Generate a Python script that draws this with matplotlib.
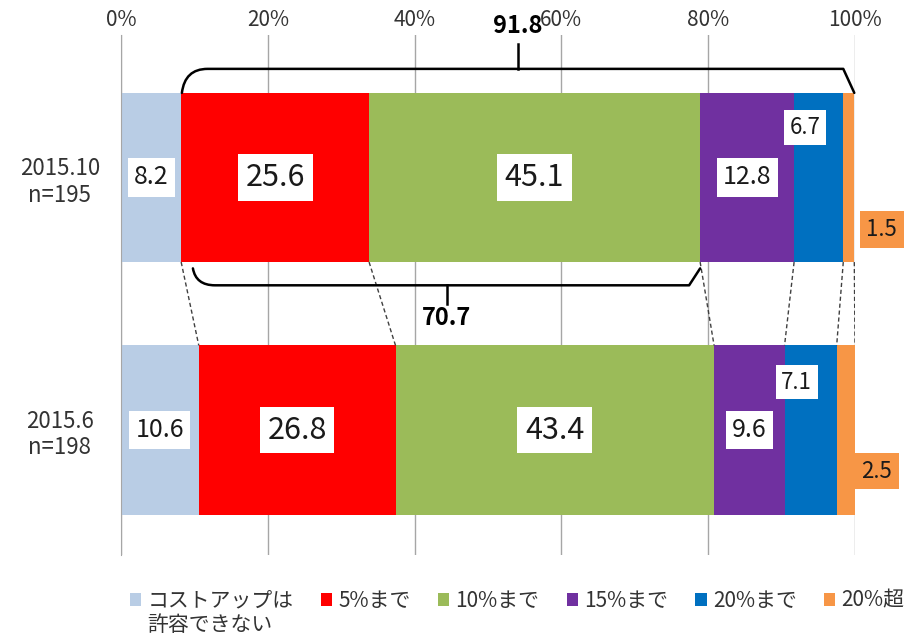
import matplotlib
matplotlib.use("Agg")
import matplotlib.pyplot as plt
from matplotlib.path import Path
from matplotlib.patches import PathPatch, Patch
import numpy as np

plt.rcParams['font.family'] = ['Noto Sans CJK JP', 'DejaVu Sans']

# ---------------------------------------------
# Data
# ---------------------------------------------
row_labels = ["2015.10\nn=195", "2015.6\nn=198"]
categories = ["コストアップは", "5%まで", "10%まで", "15%まで", "20%まで", "20%超"]
vals_2015_10 = [8.2, 25.6, 45.1, 12.8, 6.7, 1.5]
vals_2015_6 = [10.6, 26.8, 43.4, 9.6, 7.1, 2.5]
colors = ["#B9CDE5", "#FF0000", "#9BBB59", "#7030A0", "#0070C0", "#F79646"]
total_upto_20over = "91.8"   # 5%まで ~ 20%超 (2015.10)
total_5_10 = "70.7"          # 5%まで + 10%まで (2015.10)
xticks = [0, 20, 40, 60, 80, 100]

# label styling per segment
label_size = [18, 22, 22, 18, 16, 16]
small_offsets = [(-14, 50), (-14, 48)]     # 20%まで label (pixels)
orange_offsets = [(33, -52), (31, -41)]    # 20%超 label (pixels)

# ---------------------------------------------
# Figure
# ---------------------------------------------
fig = plt.figure(figsize=(9.13, 6.37), dpi=100)
ax = fig.add_axes([0.1325, 0.1287, 0.804, 0.8163])

data = np.array([vals_2015_10, vals_2015_6])
ypos = np.arange(len(row_labels))
bar_h = 0.67
left = np.zeros(len(row_labels))

for j, cat in enumerate(categories):
    ax.barh(ypos, data[:, j], left=left, height=bar_h, color=colors[j],
            label=cat, zorder=2)
    for i in range(len(row_labels)):
        v = data[i, j]
        xc = left[i] + v / 2
        txt = f"{v:.1f}"
        if j == 4:
            ax.annotate(txt, (xc, ypos[i]), xytext=small_offsets[i],
                        textcoords="offset pixels", ha="center", va="center",
                        fontsize=label_size[j], color="#1a1a1a", zorder=5,
                        bbox=dict(boxstyle="square,pad=0.25", fc="white", ec="none"))
        elif j == 5:
            ax.annotate(txt, (xc, ypos[i]), xytext=orange_offsets[i],
                        textcoords="offset pixels", ha="center", va="center",
                        fontsize=label_size[j], color="#1a1a1a", zorder=5,
                        annotation_clip=False,
                        bbox=dict(boxstyle="square,pad=0.3", fc=colors[5], ec="none"))
        else:
            ax.text(xc, ypos[i], txt, ha="center", va="center",
                    fontsize=label_size[j], color="#1a1a1a", zorder=5,
                    bbox=dict(boxstyle="square,pad=0.25", fc="white", ec="none"))
    left += data[:, j]

# series lines between the two bars
cum = np.cumsum(data, axis=1)
for k in range(len(categories)):
    ax.plot([cum[0, k], cum[1, k]], [ypos[0] + bar_h / 2, ypos[1] - bar_h / 2],
            ls=(0, (3, 2)), color="#404040", lw=1, zorder=3)


# ---------------------------------------------
# Braces
# ---------------------------------------------
def draw_brace(x0, x1, y_end, y_line, y_tip, curve_in, label, y_label):
    verts = [(x0, y_end), (x0 + 0.4, y_line), (x0 + curve_in, y_line),
             (x1 - 1.5, y_line), (x1, y_end)]
    codes = [Path.MOVETO, Path.CURVE3, Path.CURVE3, Path.LINETO, Path.LINETO]
    ax.add_patch(PathPatch(Path(verts, codes), fc="none", ec="black", lw=1.8,
                           zorder=4, clip_on=False, capstyle="round",
                           joinstyle="round"))
    xm = (x0 + x1) / 2
    ax.plot([xm, xm], [y_line, y_tip], color="black", lw=1.8, zorder=4,
            clip_on=False)
    ax.text(xm, y_label, label, ha="center", va="center", fontsize=17,
            fontweight="bold", color="black", zorder=6, clip_on=False)


top_y = ypos[0] - bar_h / 2
draw_brace(cum[0, 0] + 0.1, cum[0, 5], top_y, -0.43, -0.53, 3.5,
           total_upto_20over, -0.598)
draw_brace(cum[0, 0] + 1.6, cum[0, 2], 0.36, 0.427, 0.50, 3.0,
           total_5_10, 0.556)

# ---------------------------------------------
# Axes styling
# ---------------------------------------------
ax.set_xlim(0, 100)
ax.set_ylim(1.495, -0.564)
ax.xaxis.tick_top()
ax.set_xticks(xticks)
ax.set_xticklabels([f"{t}%" for t in xticks], fontsize=15, color="#333333")
ax.set_yticks(ypos)
ax.set_yticklabels(row_labels, fontsize=16, color="#333333", ha="center")
ax.tick_params(axis="x", length=0, pad=3)
ax.tick_params(axis="y", length=0, pad=44)
ax.xaxis.grid(True, color="#A6A6A6", lw=1)
ax.set_axisbelow(True)
for s in ["top", "right", "bottom"]:
    ax.spines[s].set_visible(False)
ax.spines["left"].set_color("#A6A6A6")

# ---------------------------------------------
# Legend
# ---------------------------------------------
handles = [Patch(facecolor=c, edgecolor="none") for c in colors]
leg = fig.legend(handles, categories, loc="upper left",
                 bbox_to_anchor=(0.142, 0.074), ncol=6, frameon=False,
                 fontsize=15, handlelength=0.55, handleheight=0.55,
                 handletextpad=0.3, columnspacing=1.3, borderaxespad=0,
                 borderpad=0)
for t in leg.get_texts():
    t.set_color("#333333")

fig.canvas.draw()
bb = leg.get_texts()[0].get_window_extent()
x0, y0 = fig.transFigure.inverted().transform((bb.x0, bb.y0))
fig.text(x0, y0 - 0.004, "許容できない", ha="left", va="top", fontsize=15,
         color="#333333")

fig.savefig("out.png", dpi=100)
